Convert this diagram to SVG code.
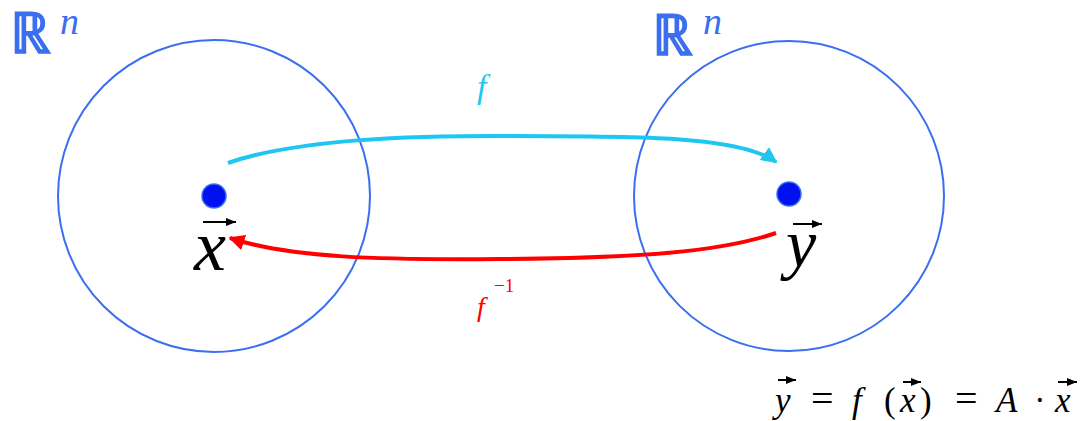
<svg xmlns="http://www.w3.org/2000/svg" width="1084" height="421" viewBox="0 0 1084 421">
<defs>
<style>
.space{fill:none;stroke:#3a6ff0;stroke-width:2}
.dot{fill:#0010f0;stroke:#3a6ff0;stroke-width:1.5}
.rn{fill:#3a6ff0;stroke:#3a6ff0;stroke-width:1.6}
.vec{stroke:#000;stroke-width:2}
</style>
<marker id="hc" viewBox="0 0 10 10" refX="9" refY="5" markerWidth="4" markerHeight="4" orient="auto" markerUnits="strokeWidth"><path d="M0,0 L10,5 L0,10 z" fill="#1ec6f2"/></marker>
<marker id="hr" viewBox="0 0 10 10" refX="9" refY="5" markerWidth="4" markerHeight="4" orient="auto" markerUnits="strokeWidth"><path d="M0,0 L10,5 L0,10 z" fill="#ff0000"/></marker>
<marker id="va" viewBox="0 0 10 10" refX="10" refY="5" markerWidth="5" markerHeight="5" orient="auto" markerUnits="strokeWidth"><path d="M0,1 L10,5 L0,9 z" fill="#000"/></marker>
</defs>
<g id="space-left">
<circle class="space" cx="214" cy="196" r="156"/>
<text class="rn" x="10" y="53" font-size="57" font-family="'Liberation Serif', serif">ℝ</text>
<text x="60" y="34" font-size="38" font-style="italic" fill="#3a6ff0" font-family="'Liberation Serif', serif">n</text>
</g>
<g id="space-right">
<circle class="space" cx="789" cy="196" r="155"/>
<text class="rn" x="652" y="55" font-size="57" font-family="'Liberation Serif', serif">ℝ</text>
<text x="703" y="34" font-size="38" font-style="italic" fill="#3a6ff0" font-family="'Liberation Serif', serif">n</text>
</g>
<g id="point-x">
<circle class="dot" cx="214" cy="196" r="12"/>
<line class="vec" x1="203" y1="222" x2="236" y2="222" marker-end="url(#va)"/>
<text x="194" y="270" font-size="72" font-style="italic" font-family="'Liberation Serif', serif">x</text>
</g>
<g id="point-y">
<circle class="dot" cx="789" cy="194" r="12"/>
<line class="vec" x1="793" y1="224" x2="822" y2="224" marker-end="url(#va)"/>
<text x="786" y="267" font-size="68" font-style="italic" font-family="'Liberation Serif', serif">y</text>
</g>
<g id="connectors">
<path d="M228,163 C300,138 420,136 500,136 C640,136 740,136 776,162" fill="none" stroke="#1ec6f2" stroke-width="4" marker-end="url(#hc)"/>
<path d="M776,233 C720,252 640,258 500,259 C380,260 290,258 230,238" fill="none" stroke="#ff0000" stroke-width="4" marker-end="url(#hr)"/>
<text x="477" y="98" font-size="34" font-style="italic" fill="#1ec6f2" font-family="'Liberation Serif', serif">f</text>
<text x="477" y="316" font-size="28" font-style="italic" fill="#ff0000" font-family="'Liberation Serif', serif">f</text>
<text x="494" y="292" font-size="19" fill="#ff0000" font-family="'Liberation Serif', serif">−1</text>
</g>
<g id="equation">
<text y="412" font-size="35" font-family="'Liberation Serif', serif"><tspan font-style="italic" x="775">y</tspan><tspan x="811" font-size="40">=</tspan><tspan font-style="italic" x="852">f</tspan><tspan x="884">(</tspan><tspan font-style="italic" x="900">x</tspan><tspan x="920">)</tspan><tspan x="955" font-size="40">=</tspan><tspan font-style="italic" x="996">A</tspan><tspan x="1034">·</tspan><tspan font-style="italic" x="1055">x</tspan></text>
<line class="vec" x1="778" y1="380" x2="796" y2="380" stroke-width="1.5" marker-end="url(#va)"/>
<line class="vec" x1="903" y1="382" x2="921" y2="382" stroke-width="1.5" marker-end="url(#va)"/>
<line class="vec" x1="1058" y1="382" x2="1077" y2="382" stroke-width="1.5" marker-end="url(#va)"/>
</g>
</svg>
